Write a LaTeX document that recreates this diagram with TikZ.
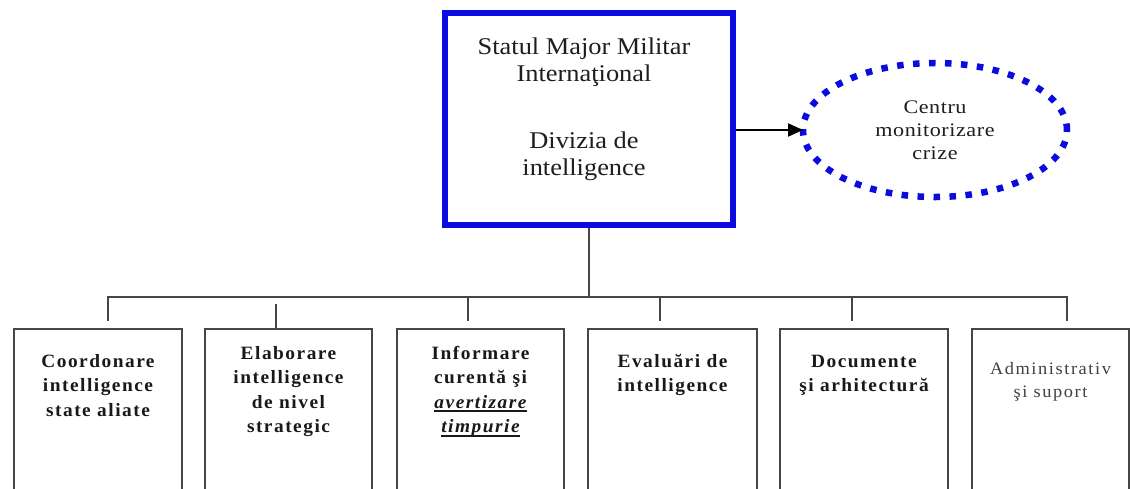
\documentclass[tikz,border=0pt]{standalone}
\usepackage{fontspec}
\setmainfont{Liberation Serif}
\newfontfamily\mainfnt[FakeStretch=1.1]{Liberation Serif}
\newfontfamily\ellfnt[FakeStretch=1.15,LetterSpace=3]{Liberation Serif}
\newfontfamily\boxfnt[FakeStretch=1.03,LetterSpace=8]{Liberation Serif}
\newfontfamily\admfnt[FakeStretch=1.05,LetterSpace=9]{Liberation Serif}
\newcommand\thickul[1]{\leavevmode\setbox0=\hbox{#1}\rlap{\raisebox{-3.8pt}{\rule{\wd0}{1.6pt}}}\box0}
\usetikzlibrary{shapes.geometric,arrows.meta}
\definecolor{mainblue}{RGB}{10,10,225}
\definecolor{linegray}{RGB}{70,70,70}
\definecolor{txtgray}{RGB}{30,30,30}
\tikzset{
  mainbox/.style={draw=mainblue, line width=6pt, minimum width=288pt, minimum height=212pt, inner sep=0pt},
  maintext/.style={anchor=north, align=center, inner sep=0pt, text=txtgray, font=\mainfnt\fontsize{24}{27.5}\selectfont},
  crisis/.style={ellipse, draw=mainblue, line width=6.5pt, dash pattern=on 6.5pt off 9.5pt, minimum width=264pt, minimum height=134pt, inner sep=0pt, outer sep=0pt, align=center, text=txtgray, font=\ellfnt\fontsize{19.2}{23}\selectfont},
  unitbox/.style={draw=linegray, line width=2pt, minimum height=190pt, inner sep=0pt, outer sep=0pt, anchor=north},
  unittext/.style={anchor=north, align=center, inner sep=0pt, text=black!90, font=\boxfnt\bfseries\fontsize{18.8}{24.5}\selectfont},
  admtext/.style={anchor=north, align=center, inner sep=0pt, text=black!75, font=\admfnt\fontsize{17.5}{23}\selectfont},
  link/.style={draw=linegray, line width=2pt},
  arrowline/.style={draw=black, line width=2pt, -{Triangle[length=15pt,width=13pt]}}
}
\begin{document}
\begin{tikzpicture}[x=1pt,y=-1pt]
\useasboundingbox (0,0) rectangle (1130,488);
\clip (0,0) rectangle (1130,488);
\fill[white] (0,0) rectangle (1130,488);

% top unit
\node[mainbox] (main) at (588.5,119) {};
\node[maintext] (mt1) at (584,34.75) {\strut Statul Major Militar\\Internaţional};
\node[maintext] (mt2) at (584,128.75) {\strut Divizia de\\intelligence};

% crisis centre
\node[crisis] (crz) at (935,130) {Centru\\monitorizare\\crize};
\draw[arrowline] (main.east |- crz.west) -- (crz.west);

% lower units
\node[unitbox, minimum width=168pt] (b1) at (98,329) {};
\node[unitbox, minimum width=167pt] (b2) at (288.5,329) {};
\node[unitbox, minimum width=167pt] (b3) at (480.5,329) {};
\node[unitbox, minimum width=169pt] (b4) at (672.5,329) {};
\node[unitbox, minimum width=168pt] (b5) at (864,329) {};
\node[unitbox, minimum width=157pt] (b6) at (1050.5,329) {};

\node[unittext] (t1) at (98,349.85) {\strut Coordonare\\intelligence\\state aliate};
\node[unittext] (t2) at (288.5,341.85) {\strut Elaborare\\intelligence\\de nivel\\strategic};
\node[unittext] (t3) at (480.5,341.85) {\strut Informare\\curentă şi\\\thickul{\itshape avertizare}\\\thickul{\itshape timpurie}};
\node[unittext] (t4) at (672.5,349.85) {\strut Evaluări de\\intelligence};
\node[unittext] (t5) at (864,349.85) {\strut Documente\\şi arhitectură};
\node[admtext] (t6) at (1050.5,357.9) {\strut Administrativ\\şi suport};

% connectors
\coordinate (d1) at (108,297);
\coordinate (d2) at (276,297);
\coordinate (d3) at (468,297);
\coordinate (d4) at (660,297);
\coordinate (d5) at (852,297);
\coordinate (d6) at (1067,297);
\draw[link] (main.south) -- (main.south |- d1);
\draw[link, line cap=rect] (d1) -- (d6);
\draw[link, shorten >=8pt] (d1) -- (d1 |- b1.north);
\draw[link, shorten <=7pt] (d2) -- (d2 |- b2.north);
\draw[link, shorten >=8pt] (d3) -- (d3 |- b3.north);
\draw[link, shorten >=8pt] (d4) -- (d4 |- b4.north);
\draw[link, shorten >=8pt] (d5) -- (d5 |- b5.north);
\draw[link, shorten >=8pt] (d6) -- (d6 |- b6.north);
\end{tikzpicture}
\end{document}
